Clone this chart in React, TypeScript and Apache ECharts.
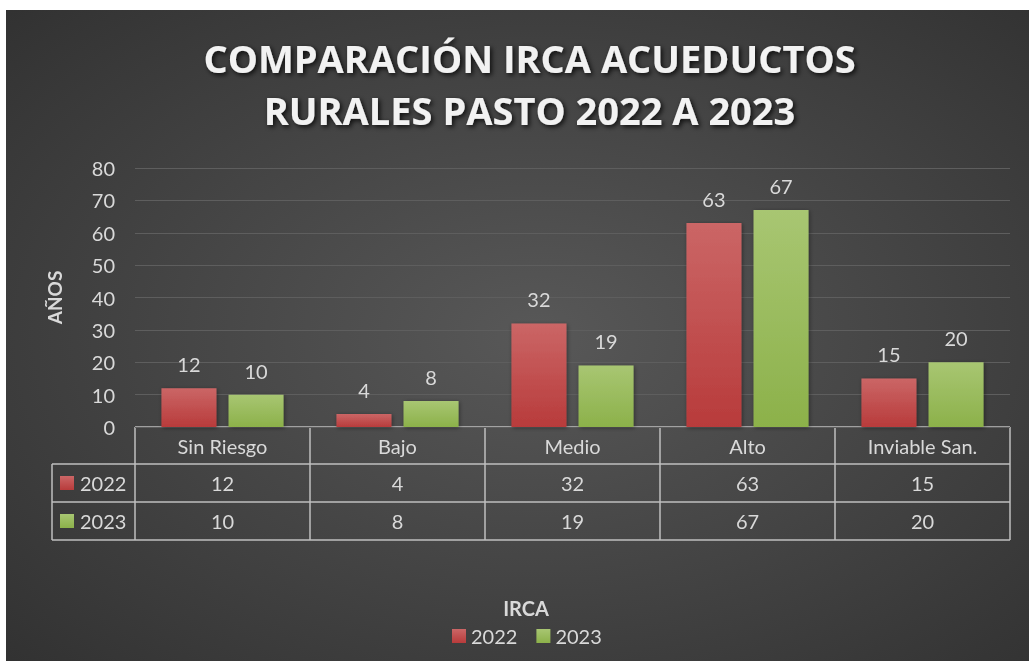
import React, { useEffect, useRef } from "react";
import * as echarts from "echarts";

const categories = ["Sin Riesgo", "Bajo", "Medio", "Alto", "Inviable San."];
const seriesNames = ["2022", "2023"];
const values2022 = [12, 4, 32, 63, 15];
const values2023 = [10, 8, 19, 67, 20];
const yTicks = { min: 0, max: 80, interval: 10 };
const titleLines = ["COMPARACIÓN IRCA ACUEDUCTOS", "RURALES PASTO 2022 A 2023"];
const yAxisTitle = "AÑOS";
const xAxisTitle = "IRCA";

const W = 1023;
const H = 651;
const GL = 129;
const GR = 1004;
const GT = 158;
const GB = 417;
const FONT = "Lato, 'Open Sans', sans-serif";
const TXT = "#d9d9d9";
const LINE = "#bfbfbf";

const redGrad = new echarts.graphic.LinearGradient(0, 0, 0, 1, [
  { offset: 0, color: "#cb6666" },
  { offset: 1, color: "#b83b3b" },
]);
const greenGrad = new echarts.graphic.LinearGradient(0, 0, 0, 1, [
  { offset: 0, color: "#a8c672" },
  { offset: 1, color: "#8cb14a" },
]);

function buildTable() {
  const els: any[] = [];
  const cw = (GR - GL) / categories.length;
  const rows = [GB, GB + 37, GB + 75, GB + 113];
  const LX = 46;
  const ls = { stroke: LINE, lineWidth: 1.5 };
  els.push({ type: "line", shape: { x1: GL, y1: rows[0], x2: GR, y2: rows[0] }, style: ls });
  for (let i = 1; i < rows.length; i++) {
    els.push({ type: "line", shape: { x1: LX, y1: rows[i], x2: GR, y2: rows[i] }, style: ls });
  }
  for (let i = 0; i <= categories.length; i++) {
    const x = GL + i * cw;
    els.push({ type: "line", shape: { x1: x, y1: rows[0], x2: x, y2: rows[3] }, style: ls });
  }
  els.push({ type: "line", shape: { x1: LX, y1: rows[1], x2: LX, y2: rows[3] }, style: ls });
  const mk = (x: number, y: number, t: string, align = "center") => ({
    type: "text",
    x,
    y,
    style: { text: t, fill: TXT, font: `20px ${FONT}`, align, verticalAlign: "middle" },
  });
  categories.forEach((c, i) => {
    const cx = GL + (i + 0.5) * cw;
    els.push(mk(cx, (rows[0] + rows[1]) / 2, c));
    els.push(mk(cx, (rows[1] + rows[2]) / 2, String(values2022[i])));
    els.push(mk(cx, (rows[2] + rows[3]) / 2, String(values2023[i])));
  });
  [redGrad, greenGrad].forEach((g, k) => {
    const cy = (rows[k + 1] + rows[k + 2]) / 2;
    els.push({ type: "rect", shape: { x: LX + 8, y: cy - 7, width: 14, height: 14 }, style: { fill: g } });
    els.push(mk(LX + 28, cy, seriesNames[k], "left"));
  });
  return els;
}

export default function App() {
  const ref = useRef<HTMLDivElement>(null);
  useEffect(() => {
    if (!ref.current) return;
    const chart = echarts.init(ref.current, undefined, { renderer: "svg" });
    const titleEls = titleLines.map((t, i) => ({
      type: "text",
      x: W / 2 + 12,
      y: 48 + i * 52,
      style: {
        text: t,
        fill: "#f2f2f2",
        font: `bold 38px 'Open Sans', Lato, sans-serif`,
        align: "center",
        verticalAlign: "middle",
        textShadowColor: "rgba(0,0,0,0.8)",
        textShadowBlur: 5,
        textShadowOffsetX: 2,
        textShadowOffsetY: 2,
      },
    }));
    chart.setOption({
      animation: false,
      backgroundColor: {
        type: "radial",
        x: 0.52,
        y: 0.5,
        r: 1.0,
        colorStops: [
          { offset: 0, color: "#585858" },
          { offset: 1, color: "#232323" },
        ],
      },
      textStyle: { fontFamily: FONT },
      grid: { left: GL, right: W - GR, top: GT, bottom: H - GB, containLabel: false },
      legend: {
        data: seriesNames,
        left: 441,
        top: 611,
        itemWidth: 14,
        itemHeight: 14,
        itemGap: 19,
        icon: "rect",
        textStyle: { color: TXT, fontSize: 20, fontFamily: FONT, padding: [0, 0, 0, 0] },
      },
      xAxis: {
        type: "category",
        data: categories,
        axisLine: { show: false },
        axisTick: { show: false },
        axisLabel: { show: false },
      },
      yAxis: {
        type: "value",
        min: yTicks.min,
        max: yTicks.max,
        interval: yTicks.interval,
        name: yAxisTitle,
        nameLocation: "middle",
        nameGap: 71,
        nameRotate: 90,
        nameTextStyle: { color: TXT, fontSize: 19, fontWeight: "bold", fontFamily: FONT },
        axisLine: { show: false },
        axisTick: { show: false },
        axisLabel: { color: TXT, fontSize: 20, margin: 20, fontFamily: FONT },
        splitLine: { lineStyle: { color: "#5e5e5e", width: 1 } },
      },
      series: [
        {
          name: seriesNames[0],
          type: "bar",
          data: values2022,
          barWidth: 55,
          barGap: "22%",
          itemStyle: { color: redGrad, shadowColor: "rgba(0,0,0,0.4)", shadowBlur: 4, shadowOffsetX: 1, shadowOffsetY: 1 },
          label: { show: true, position: "top", distance: 14, color: TXT, fontSize: 20, fontFamily: FONT },
        },
        {
          name: seriesNames[1],
          type: "bar",
          data: values2023,
          barWidth: 55,
          itemStyle: { color: greenGrad, shadowColor: "rgba(0,0,0,0.4)", shadowBlur: 4, shadowOffsetX: 1, shadowOffsetY: 1 },
          label: { show: true, position: "top", distance: 14, color: TXT, fontSize: 20, fontFamily: FONT },
        },
      ],
      graphic: [
        ...titleEls,
        ...buildTable(),
        {
          type: "text",
          x: 520,
          y: 598,
          z: 10,
          style: { text: xAxisTitle, fill: TXT, font: `bold 20px ${FONT}`, align: "center", verticalAlign: "middle" },
        },
      ],
    });
    return () => chart.dispose();
  }, []);
  return (
    <div
      ref={ref}
      style={{ position: "fixed", left: 6, top: 10, width: W, height: H }}
    />
  );
}
